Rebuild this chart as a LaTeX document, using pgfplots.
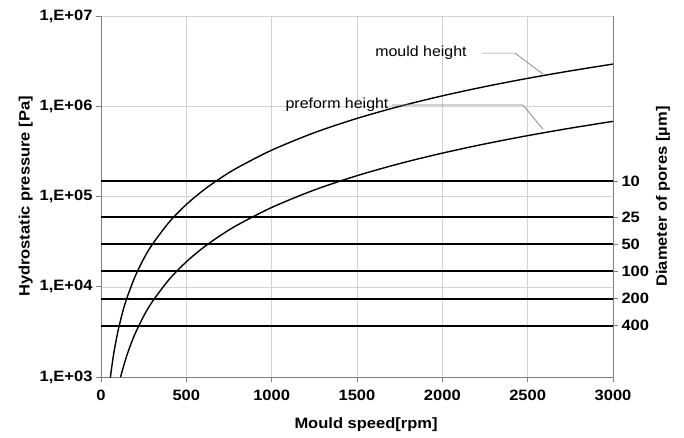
\documentclass[border=0pt]{standalone}
\usepackage{pgfplots}
\pgfplotsset{compat=1.18}
\usepackage{pgfplotstable}
\usepackage{fontspec}
\setmainfont[FakeStretch=1.1]{Liberation Sans}

% hydrostatic pressure
\pgfplotstableread{
rpm P
55 986
60 1174
70 1597
80 2086
100 3260
125 5094
150 7335
200 13040
250 20375
300 29340
400 52160
500 81500
600 117360
700 159740
800 208640
1000 326000
1250 509400
1500 733500
1750 998400
2000 1304000
2250 1650400
2500 2037500
2750 2465000
3000 2934000
}\mould

\pgfplotstableread{
rpm P
115 1000
125 1181
150 1701
175 2315
200 3024
250 4725
300 6804
400 12096
500 18900
600 27216
700 37044
800 48384
1000 75600
1250 118125
1500 170100
1750 231525
2000 302400
2250 382725
2500 472500
2750 571725
3000 680400
}\preform

% capillary pressure for each pore diameter
\pgfplotstableread{
rpm d10 d25 d50 d100 d200 d400
0 147000 59000 29500 14800 7370 3720
3000 147000 59000 29500 14800 7370 3720
}\pores

\newcommand\lbl{\fontsize{15}{17}\selectfont\bfseries}
\newcommand\txt{\fontsize{14.5}{17}\selectfont}

\begin{document}
\begin{tikzpicture}
\begin{axis}[
  width=512pt, height=361pt, scale only axis,
  xmin=0, xmax=3000, ymin=1e3, ymax=1e7, ymode=log,
  axis x line*=bottom, axis y line*=left,
  axis line style={-, gray, line width=0.8pt},
  tick align=outside, major tick length=5pt,
  tick style={gray, line width=0.6pt},
  yminorticks=false,
  grid=major, grid style={gray!35, line width=0.5pt},
  xtick={0,500,...,3000},
  xticklabels={0,500,1000,1500,2000,2500,3000},
  ytick={1e3,1e4,1e5,1e6,1e7},
  yticklabels={{1,E+03},{1,E+04},{1,E+05},{1,E+06},{1,E+07}},
  ticklabel style={font=\lbl},
  xticklabel style={yshift=-4pt},
  xlabel={Mould speed[rpm]}, ylabel={Hydrostatic pressure [Pa]},
  label style={font=\lbl},
  xlabel style={yshift=-11pt, xshift=9pt},
  clip=false,
]
\addplot[black, line width=1.4pt, smooth] table[x=rpm, y=P] {\mould};
\addplot[black, line width=1.4pt, smooth] table[x=rpm, y=P] {\preform};
\foreach \c in {d10,d25,d50,d100,d200,d400}{
  \addplot[black, line width=2pt] table[x=rpm, y=\c] {\pores};
}
\draw[gray, line width=0.7pt] (axis cs:2232,3.88e6) -- (axis cs:2426,3.88e6) -- (axis cs:2590,2.27e6);
\draw[gray, line width=0.7pt] (axis cs:1705,1.03e6) -- (axis cs:2473,1.03e6) -- (axis cs:2590,5.55e5);
\node[font=\txt] at (axis cs:1875,3.95e6) {mould height};
\node[font=\txt, anchor=base] at (axis cs:1383,0.95e6) {preform height};
\coordinate (ll) at (rel axis cs:0,0);
\coordinate (ur) at (rel axis cs:1,1);
\end{axis}
\begin{axis}[
  width=512pt, height=361pt, scale only axis,
  xmin=0, xmax=3000, ymin=1e3, ymax=1e7, ymode=log,
  axis x line=none, axis y line*=right,
  axis line style={-, gray, line width=0.8pt},
  tick align=outside, major tick length=5pt,
  tick style={gray, line width=0.6pt},
  yminorticks=false,
  ytick={147000,59000,29500,14800,7370,3720},
  yticklabels={10,25,50,100,200,400},
  ticklabel style={font=\lbl},
  ylabel={Diameter of pores [µm]},
  label style={font=\lbl},
]
\end{axis}
\pgfresetboundingbox
\useasboundingbox ([xshift=-101pt,yshift=-60pt]ll) rectangle ([xshift=71pt,yshift=16pt]ur);
\end{tikzpicture}
\end{document}
